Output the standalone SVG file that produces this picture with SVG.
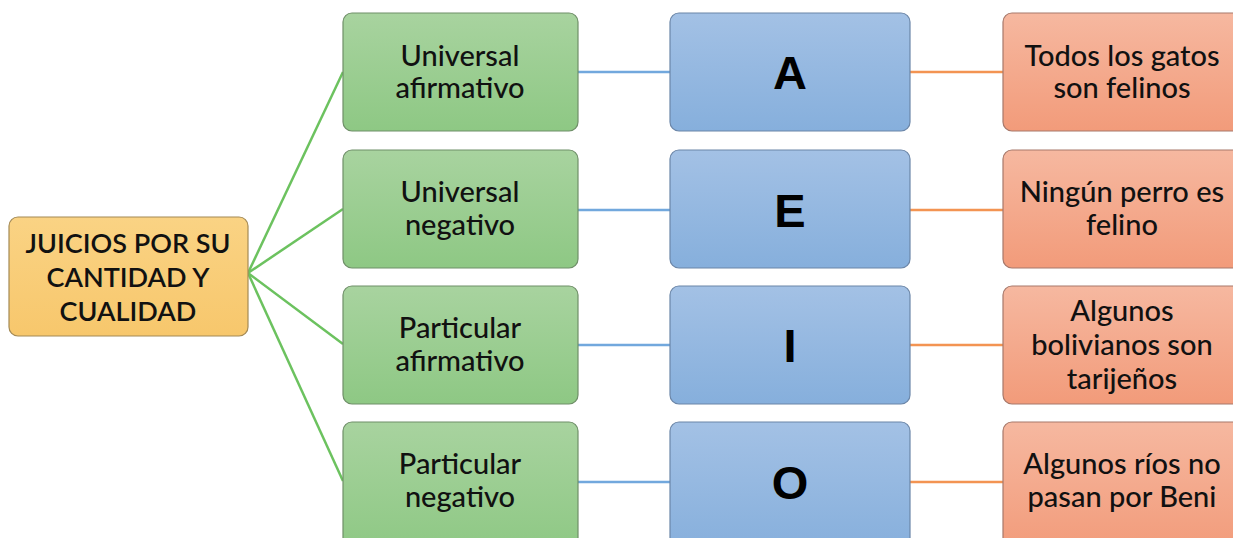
<svg xmlns="http://www.w3.org/2000/svg" width="1233" height="538" viewBox="0 0 1233 538">
<defs>
<linearGradient id="gG" x1="0" y1="0" x2="0" y2="1"><stop offset="0" stop-color="#a8d39f"/><stop offset="1" stop-color="#8ec884"/></linearGradient>
<linearGradient id="gB" x1="0" y1="0" x2="0" y2="1"><stop offset="0" stop-color="#a3c1e5"/><stop offset="1" stop-color="#86afdc"/></linearGradient>
<linearGradient id="gO" x1="0" y1="0" x2="0" y2="1"><stop offset="0" stop-color="#f6b8a0"/><stop offset="1" stop-color="#f29b7a"/></linearGradient>
<linearGradient id="gY" x1="0" y1="0" x2="0" y2="1"><stop offset="0" stop-color="#fad384"/><stop offset="1" stop-color="#f7c76c"/></linearGradient>
</defs>
<style>
.g{fill:url(#gG);stroke:#6f8f68;stroke-width:1.2}
.b{fill:url(#gB);stroke:#6b86a8;stroke-width:1.2}
.o{fill:url(#gO);stroke:#a7786a;stroke-width:1.2}
.y{fill:url(#gY);stroke:#a48a55;stroke-width:1.2}
.t{font-family:Lato,"Open Sans",sans-serif;font-size:29px;font-weight:500;fill:#111;text-anchor:middle}
.r{font-family:Lato,"Open Sans",sans-serif;font-size:27px;fill:#111;text-anchor:middle;font-weight:600}
.L{font-family:"Liberation Sans",Arial,sans-serif;font-size:47px;font-weight:bold;fill:#000;text-anchor:middle}
.cg{stroke:#6cc25f;stroke-width:2.5;fill:none}
.cb{stroke:#72a8dd;stroke-width:2.5;fill:none}
.co{stroke:#f39452;stroke-width:2.5;fill:none}
</style>
<rect width="1233" height="538" fill="#fff"/>
<g id="connectors">
<line class="cg" x1="248" y1="273" x2="343" y2="72"/>
<line class="cg" x1="248" y1="273" x2="343" y2="209"/>
<line class="cg" x1="248" y1="273" x2="343" y2="344"/>
<line class="cg" x1="248" y1="273" x2="343" y2="481"/>
<line class="cb" x1="578" y1="72" x2="670" y2="72"/>
<line class="cb" x1="578" y1="210" x2="670" y2="210"/>
<line class="cb" x1="578" y1="345" x2="670" y2="345"/>
<line class="cb" x1="578" y1="482" x2="670" y2="482"/>
<line class="co" x1="910" y1="72" x2="1003" y2="72"/>
<line class="co" x1="910" y1="210" x2="1003" y2="210"/>
<line class="co" x1="910" y1="345" x2="1003" y2="345"/>
<line class="co" x1="910" y1="482" x2="1003" y2="482"/>
</g>
<g id="root">
<rect class="y" x="9" y="217" width="239" height="119" rx="9"/>
<text class="r" x="128" y="253">JUICIOS POR SU</text>
<text class="r" x="128" y="287">CANTIDAD Y</text>
<text class="r" x="128" y="321">CUALIDAD</text>
</g>
<g id="ua">
<rect class="g" x="343" y="13" width="235" height="118" rx="9"/>
<text class="t" x="460" y="66">Universal</text>
<text class="t" x="460" y="98">afirmativo</text>
</g>
<g id="un">
<rect class="g" x="343" y="150" width="235" height="118" rx="9"/>
<text class="t" x="460" y="202">Universal</text>
<text class="t" x="460" y="235">negativo</text>
</g>
<g id="pa">
<rect class="g" x="343" y="286" width="235" height="118" rx="9"/>
<text class="t" x="460" y="338">Particular</text>
<text class="t" x="460" y="371">afirmativo</text>
</g>
<g id="pn">
<rect class="g" x="343" y="422" width="235" height="130" rx="9"/>
<text class="t" x="460" y="474">Particular</text>
<text class="t" x="460" y="507">negativo</text>
</g>
<g id="A">
<rect class="b" x="670" y="13" width="240" height="118" rx="9"/>
<text class="L" x="790" y="89">A</text>
</g>
<g id="E">
<rect class="b" x="670" y="150" width="240" height="118" rx="9"/>
<text class="L" x="790" y="227">E</text>
</g>
<g id="I">
<rect class="b" x="670" y="286" width="240" height="118" rx="9"/>
<text class="L" x="790" y="362">I</text>
</g>
<g id="O">
<rect class="b" x="670" y="422" width="240" height="130" rx="9"/>
<text class="L" x="790" y="499">O</text>
</g>
<g id="ex1">
<rect class="o" x="1003" y="13" width="245" height="118" rx="9"/>
<text class="t" x="1122" y="66">Todos los gatos</text>
<text class="t" x="1122" y="98">son felinos</text>
</g>
<g id="ex2">
<rect class="o" x="1003" y="150" width="245" height="118" rx="9"/>
<text class="t" x="1122" y="202">Ningún perro es</text>
<text class="t" x="1122" y="235">felino</text>
</g>
<g id="ex3">
<rect class="o" x="1003" y="286" width="245" height="118" rx="9"/>
<text class="t" x="1122" y="321">Algunos</text>
<text class="t" x="1122" y="355">bolivianos son</text>
<text class="t" x="1122" y="389">tarijeños</text>
</g>
<g id="ex4">
<rect class="o" x="1003" y="422" width="245" height="130" rx="9"/>
<text class="t" x="1122" y="474">Algunos ríos no</text>
<text class="t" x="1122" y="507">pasan por Beni</text>
</g>
</svg>
